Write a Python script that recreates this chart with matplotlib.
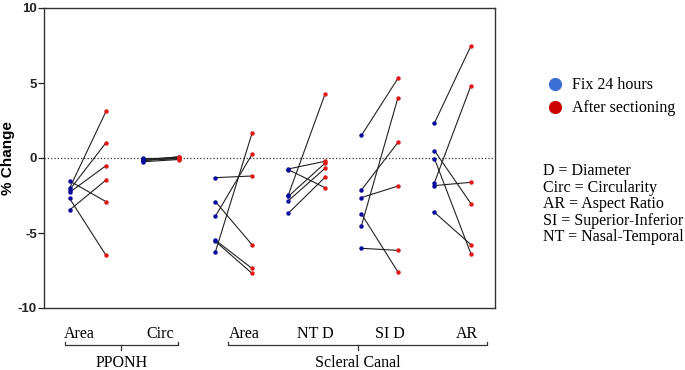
import numpy as np
import matplotlib
matplotlib.use('agg')
from matplotlib import pyplot as plt

# measurements (% change), one list per category: before -> after, paired by index
categories = ['Area', 'Circ', 'Area', 'NT D', 'SI D', 'AR']
groups = ['PPONH', 'Scleral Canal']

fix24 = [
    [-1.53, -2.02, -2.13, -2.29, -2.69, -3.47],
    [-0.05, -0.10, -0.15, -0.20, -0.25, 0.02],
    [-1.31, -2.91, -3.87, -5.48, -5.56, -6.24],
    [-0.73, -0.78, -2.44, -2.55, -2.84, -3.67],
    [1.51, -2.13, -2.64, -3.73, -4.51, -6.02],
    [2.33, -1.64, -1.84, 0.49, -0.04, -3.62],
]
sectioned = [
    [-2.91, 3.11, 1.02, -0.51, -6.49, -1.47],
    [0.0, 0.05, -0.05, 0.10, -0.10, 0.02],
    [-1.20, -5.78, 0.24, -7.36, -7.69, 1.64],
    [-0.22, -1.98, 4.25, -0.35, -0.69, -1.29],
    [5.31, 1.04, -1.87, -7.60, 4.02, -6.16],
    [7.47, 4.82, -1.62, -3.04, -6.38, -5.78],
]

legend_names = ['Fix 24 hours', 'After sectioning']
notes = ['D = Diameter', 'Circ = Circularity', 'AR = Aspect Ratio',
         'SI = Superior-Inferior', 'NT = Nasal-Temporal']

W, H = 685, 370


def fx(px):
    return px / W


def fy(py):
    return 1 - py / H


serif = 'Liberation Serif'
sans = 'Liberation Sans'

fig = plt.figure(figsize=(6.85, 3.7), dpi=100)
ax = fig.add_axes([fx(44), fy(308), fx(495) - fx(44), fy(8) - fy(308)])

for i in range(len(categories)):
    for b, a in zip(fix24[i], sectioned[i]):
        ax.plot([i - 0.25, i + 0.25], [b, a], color='#222222', lw=0.8, zorder=2)
    ax.plot([i - 0.25] * len(fix24[i]), fix24[i], 'o', color='#0a0a9a', ms=3.2, mec='none', zorder=3)
    ax.plot([i + 0.25] * len(sectioned[i]), sectioned[i], 'o', color='#e01818', ms=3.2, mec='none', zorder=3)

ax.axhline(0, color='#333333', ls=':', lw=0.9, zorder=1)
ax.set_xlim(-0.6, 5.58)
ax.set_ylim(-10, 10)
ax.set_yticks([-10, -5, 0, 5, 10])
ax.set_yticklabels(['-10', '-5', '0', '5', '10'], fontfamily=sans, fontweight='bold', fontsize=9.5)
ax.set_xticks([])
ax.tick_params(axis='y', length=4, width=0.9, pad=1, colors='#222222')
for s in ax.spines.values():
    s.set_linewidth(1.0)
    s.set_color('#333333')

fig.text(fx(8), fy(158), '% Change', rotation=90, ha='center', va='center',
         fontfamily=sans, fontweight='bold', fontsize=11)

# category labels
label_x = [79, 160, 244, 315, 390, 467]
for lx, name in zip(label_x, categories):
    fig.text(fx(lx), fy(338), name, ha='center', va='baseline', fontfamily=serif, fontsize=11.5)

# braces under the categories
brace_spans = [(65, 178), (228, 487)]
for (x0, x1), g in zip(brace_spans, groups):
    xm = (x0 + x1) / 2
    fig.lines.append(plt.Line2D([fx(x0), fx(x0), fx(x1), fx(x1)],
                                [fy(342), fy(345), fy(345), fy(342)],
                                transform=fig.transFigure, color='#333333', lw=0.9))
    fig.lines.append(plt.Line2D([fx(xm), fx(xm)], [fy(345), fy(350)],
                                transform=fig.transFigure, color='#333333', lw=0.9))
    fig.text(fx(xm), fy(367), g, ha='center', va='baseline', fontfamily=serif, fontsize=11.5)

# legend
leg_colors = ['#3c6fd6', '#cc0000']
for k, (name, c) in enumerate(zip(legend_names, leg_colors)):
    yy = 84 + k * 23
    fig.lines.append(plt.Line2D([fx(555)], [fy(yy)], transform=fig.transFigure,
                                marker='o', ms=9.5, color=c, mec='none', ls='none'))
    fig.text(fx(572), fy(yy + 5), name, ha='left', va='baseline', fontfamily=serif, fontsize=11.5)

for k, n in enumerate(notes):
    fig.text(fx(543), fy(175 + k * 16.6), n, ha='left', va='baseline', fontfamily=serif, fontsize=11.5)

plt.savefig('out.png', dpi=100)
plt.close()
